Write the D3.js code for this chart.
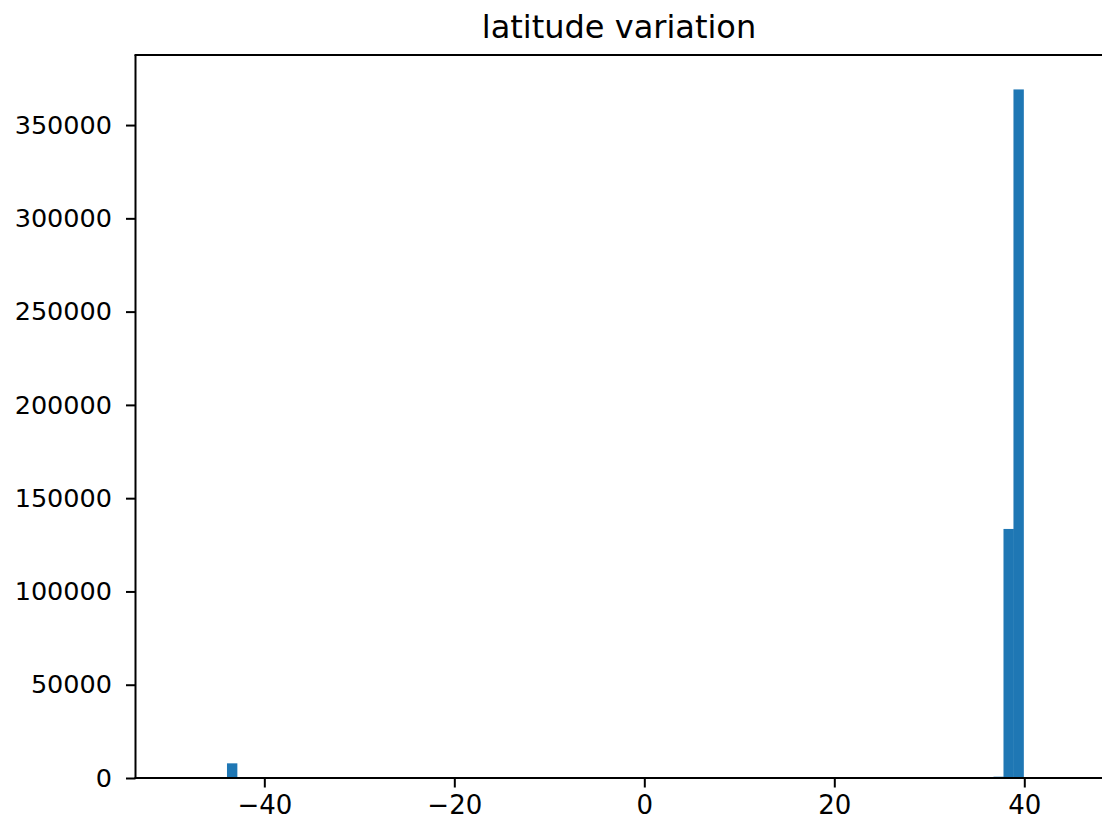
<!DOCTYPE html>
<html>
<head>
<meta charset="utf-8">
<script src="https://cdn.jsdelivr.net/npm/d3@7/dist/d3.min.js"></script>
<style>
  html, body { margin: 0; padding: 0; background: #fff; overflow: hidden; }
  svg { display: block; }
  text { font-family: "DejaVu Sans", sans-serif; fill: #000; }
</style>
</head>
<body>
<svg id="chart" width="1102" height="823"></svg>
<script>
// Histogram bins (visible, non-empty ones)
const binStarts = [-43.93, 36.76, 37.81, 38.86];
const binEnds   = [-42.88, 37.81, 38.86, 39.91];
const counts    = [7860, 700, 133500, 369100];

const xTicks = [-40, -20, 0, 20, 40];
const yTicks = [0, 50000, 100000, 150000, 200000, 250000, 300000, 350000];
const chartTitle = "latitude variation";

(function () {
const W = 1102, H = 823;
const padL = 135.5, padT = 55, padB = 778, padR = 1102;

const svg = d3.select("#chart");

const x = d3.scaleLinear().domain([-53.56, 48.18]).range([padL, padR]);
const y = d3.scaleLinear().domain([0, 369100 * 1.05]).range([padB, padT]);

// bars
svg.append("g").selectAll("rect")
  .data(counts)
  .join("rect")
  .attr("x", (d, i) => x(binStarts[i]))
  .attr("width", (d, i) => x(binEnds[i]) - x(binStarts[i]) + 0.4)
  .attr("y", d => y(d))
  .attr("height", d => y(0) - y(d))
  .attr("fill", "#1f77b4");

// spines
const spines = svg.append("g").attr("stroke", "#000").attr("stroke-width", 2).attr("fill", "none");
spines.append("line").attr("x1", padL).attr("x2", padL).attr("y1", padT).attr("y2", padB);
spines.append("line").attr("x1", padL - 1).attr("x2", W).attr("y1", padT).attr("y2", padT);
spines.append("line").attr("x1", padL - 1).attr("x2", W).attr("y1", padB).attr("y2", padB);

// x axis
const xAxis = d3.axisBottom(x)
  .tickValues(xTicks)
  .tickSize(9.5)
  .tickPadding(8)
  .tickFormat(d => d < 0 ? "\u2212" + Math.abs(d) : String(d));
const gx = svg.append("g").attr("transform", `translate(0,${padB})`).call(xAxis);
gx.select(".domain").remove();
gx.selectAll(".tick line").attr("stroke", "#000").attr("stroke-width", 2);
gx.selectAll(".tick text").attr("font-size", "26px").attr("fill", "#000")
  .attr("font-family", "DejaVu Sans");

// y axis
const yAxis = d3.axisLeft(y)
  .tickValues(yTicks)
  .tickSize(9.5)
  .tickPadding(14)
  .tickFormat(d => String(d));
const gy = svg.append("g").attr("transform", `translate(${padL},0)`).call(yAxis);
gy.select(".domain").remove();
gy.selectAll(".tick line").attr("stroke", "#000").attr("stroke-width", 2);
gy.selectAll(".tick text").attr("font-size", "25.5px").attr("fill", "#000")
  .attr("font-family", "DejaVu Sans");

// title
svg.append("text")
  .attr("x", 619)
  .attr("y", 38)
  .attr("text-anchor", "middle")
  .attr("font-size", "32px")
  .text(chartTitle);
})();
</script>
</body>
</html>
